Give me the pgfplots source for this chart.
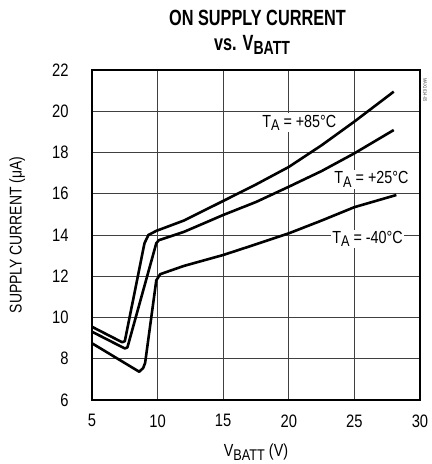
\documentclass[border=0pt]{standalone}
\usepackage{pgfplots}
\pgfplotsset{compat=1.18}
\usepackage{fontspec}
\setmainfont{Liberation Sans}[FakeStretch=0.82]
\newfontfamily\titlefont{Liberation Sans Bold}[FakeStretch=0.74]
\newcommand{\sub}[1]{\raisebox{-0.35ex}{\fontsize{15.5}{16}\selectfont #1}}
\newcommand{\tsub}[1]{\raisebox{-0.3ex}{\fontsize{19}{20}\selectfont #1}}
\begin{document}
\begin{tikzpicture}
\begin{axis}[
  name=ax,
  at={(0pt,0pt)}, anchor=south west,
  scale only axis, width=328pt, height=330pt,
  xmin=5, xmax=30, ymin=6, ymax=22,
  xtick={5,10,...,30}, ytick={6,8,...,22},
  major tick length=0pt,
  grid=major,
  grid style={black!75, line width=0.7pt},
  axis line style={line width=2.6pt},
  tick label style={font=\fontsize{18}{20}\selectfont},
  /pgf/number format/assume math mode=true,
  xticklabel style={yshift=-11pt},
  yticklabel style={xshift=-20pt},
  xlabel={V\sub{BATT} (V)},
  xlabel style={font=\fontsize{17.5}{19}\selectfont, yshift=-10pt},
  ylabel={SUPPLY CURRENT (μA)},
  ylabel style={font=\fontsize{17}{19}\selectfont, yshift=20pt},
  clip=false,
]
\addplot[black, line width=2.6pt, line join=round] coordinates {
 (5,9.55) (7.3,8.8) (7.5,8.85) (9.0,13.6) (9.3,14.0) (9.9,14.2) (12,14.7)
 (15,15.65) (17.5,16.45) (20,17.3) (22.5,18.35) (25,19.5) (28,20.95)};
\addplot[black, line width=2.6pt, line join=round] coordinates {
 (5,9.31) (7.5,8.5) (7.7,8.55) (9.9,13.6) (10.1,13.75) (12,14.15)
 (15,14.97) (17.5,15.6) (20,16.34) (22.5,17.1) (25,17.96) (28,19.09)};
\addplot[black, line width=2.6pt, line join=round] coordinates {
 (5,8.75) (8.6,7.37) (8.9,7.55) (9.05,7.8) (9.9,11.8) (10.2,12.1) (12,12.5)
 (15,13.03) (17.5,13.55) (20,14.08) (22.5,14.7) (25,15.35) (28.2,15.94)};
\node[fill=white, inner sep=1.5pt, font=\fontsize{17.5}{19}\selectfont] at (axis cs:20.8,19.45) {T\sub{A} = +85°C};
\node[fill=white, inner sep=1.5pt, font=\fontsize{17.5}{19}\selectfont] at (axis cs:26.3,16.7) {T\sub{A} = +25°C};
\node[fill=white, inner sep=1.5pt, font=\fontsize{17.5}{19}\selectfont] at (axis cs:26.0,13.8) {T\sub{A} = -40°C};
\end{axis}
\path (-92pt,-64pt) rectangle (338pt,400pt);
\node[font=\titlefont\fontsize{22}{24}\selectfont] at (165.5pt,382pt) {ON SUPPLY CURRENT};
\node[font=\titlefont\fontsize{22}{24}\selectfont] at (160pt,355pt) {vs. V\tsub{BATT}};
\node[rotate=-90, font=\fontsize{5}{6}\selectfont, text=black!70] at (333pt,310pt) {MAX1614-05};
\end{tikzpicture}
\end{document}
